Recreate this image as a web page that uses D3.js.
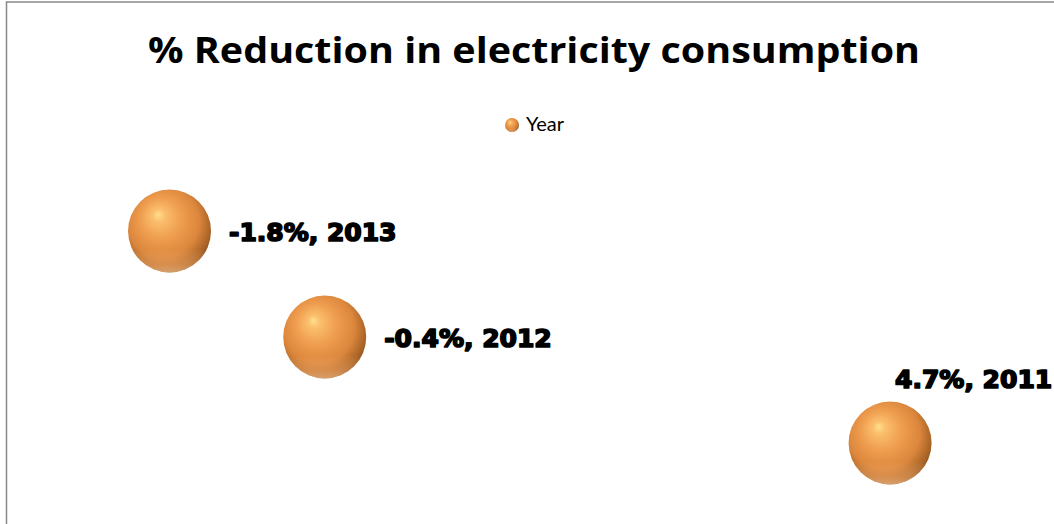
<!DOCTYPE html>
<html>
<head>
<meta charset="utf-8">
<script src="https://cdn.jsdelivr.net/npm/d3@7"></script>
<style>
  html, body { margin: 0; padding: 0; background: #fff; }
  svg { display: block; }
</style>
</head>
<body>
<svg id="chart" width="1054" height="524"></svg>
<script>
// ---- data ----
const title = "% Reduction in electricity consumption";
const seriesName = "Year";
const reduction = [4.7, -0.4, -1.8];   // % reduction (x)
const years = [2011, 2012, 2013];      // year (y)

const W = 1054, H = 524;
const svg = d3.select("#chart");

// chart border (area extends past the right/bottom edges)
svg.append("rect")
  .attr("x", 6.5).attr("y", 2)
  .attr("width", W + 20).attr("height", H + 20)
  .attr("fill", "#fff")
  .attr("stroke", "#898989").attr("stroke-width", 1.5);

// gradients for the 3D-looking bubbles
const defs = svg.append("defs");
const g1 = defs.append("radialGradient").attr("id", "ball")
  .attr("cx", "0.45").attr("cy", "0.42").attr("r", "0.62")
  .attr("fx", "0.36").attr("fy", "0.3");
[[0, "#ffe08e"], [0.12, "#fbbf6d"], [0.4, "#ef9d4f"], [0.7, "#db863c"], [0.9, "#a86326"], [1, "#874c1c"]]
  .forEach(([o, c]) => g1.append("stop").attr("offset", o).attr("stop-color", c));
const g2 = defs.append("linearGradient").attr("id", "rim")
  .attr("x1", 0).attr("y1", 0).attr("x2", 0).attr("y2", 1);
[[0, "#ffc080", 0], [0.72, "#ffc080", 0], [0.9, "#f7b070", 0.45], [1, "#ffd0a0", 0.6]]
  .forEach(([o, c, a]) => g2.append("stop").attr("offset", o).attr("stop-color", c).attr("stop-opacity", a));

// scales (axes hidden in the reference)
const x = d3.scaleLinear().domain([-3, 6]).range([36.5, 1034.2]);
const y = d3.scaleLinear().domain([2010, 2014]).range([549, 125]);
const r = 41.5;

// title
svg.append("text")
  .attr("x", 534).attr("y", 63)
  .attr("text-anchor", "middle")
  .attr("font-family", "'Open Sans', Lato, sans-serif")
  .attr("font-weight", 700)
  .attr("font-size", 35)
  .attr("textLength", 772)
  .attr("lengthAdjust", "spacingAndGlyphs")
  .attr("fill", "#000")
  .text(title);

// legend
const leg = svg.append("g");
leg.append("circle").attr("cx", 512).attr("cy", 125).attr("r", 7).attr("fill", "url(#ball)");
leg.append("circle").attr("cx", 512).attr("cy", 125).attr("r", 7).attr("fill", "url(#rim)");
leg.append("text").attr("x", 526).attr("y", 131)
  .attr("font-family", "Lato, 'Open Sans', sans-serif")
  .attr("font-size", 20).attr("fill", "#000")
  .text(seriesName);

// bubbles
const pts = reduction.map((v, i) => ({ v, yr: years[i] }));
const bubbles = svg.append("g").selectAll("g").data(pts).join("g");
bubbles.append("circle")
  .attr("cx", d => x(d.v)).attr("cy", d => y(d.yr)).attr("r", r)
  .attr("fill", "url(#ball)");
bubbles.append("circle")
  .attr("cx", d => x(d.v)).attr("cy", d => y(d.yr)).attr("r", r)
  .attr("fill", "url(#rim)");

// data labels: to the right, or above when they would overflow
const fmt = d3.formatLocale({ decimal: ".", thousands: ",", grouping: [3], currency: ["", ""], minus: "-" }).format(".1f");
const labels = svg.append("g").selectAll("text").data(pts).join("text")
  .attr("font-family", "'DejaVu Sans', sans-serif")
  .attr("font-weight", 700)
  .attr("font-size", 25)
  .attr("fill", "#000")
  .attr("stroke", "#000").attr("stroke-width", 1.7)
  .attr("stroke-linejoin", "round")
  .attr("paint-order", "stroke")
  .text(d => `${fmt(d.v)}%, ${d.yr}`);
labels.each(function(d) {
  const t = d3.select(this);
  const w = this.getComputedTextLength();
  const cx = x(d.v), cy = y(d.yr);
  let lx = cx + r + 18;
  if (lx + w > W - 4) {
    t.attr("x", cx + 5).attr("y", cy - r - 14);
  } else {
    t.attr("x", lx).attr("y", cy + 10);
  }
});
</script>
</body>
</html>
